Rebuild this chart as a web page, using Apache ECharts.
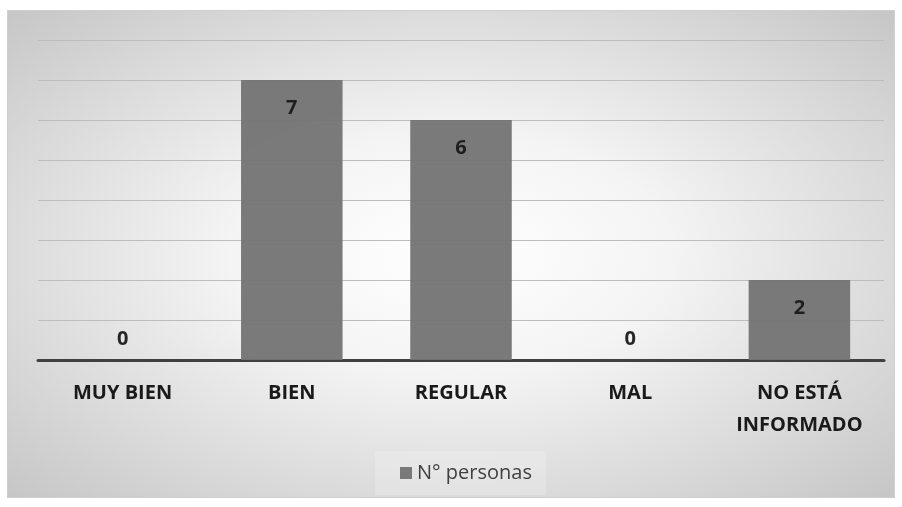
<!DOCTYPE html>
<html>
<head>
<meta charset="utf-8">
<script src="https://cdn.jsdelivr.net/npm/echarts@6/dist/echarts.min.js"></script>
<style>
  html, body { margin: 0; padding: 0; background: #fff; }
  #frame {
    position: absolute; left: 7px; top: 10px; width: 886px; height: 486px;
    border: 1px solid #cfcfcf;
    background: radial-gradient(ellipse at center, #ffffff 0%, #f4f4f4 35%, #c6c6c6 100%);
  }
  #chart { position: absolute; left: 0; top: 0; width: 902px; height: 507px; }
</style>
</head>
<body>
<div id="frame"></div>
<div id="chart"></div>
<script>
// datos del gráfico
var categorias = ['MUY BIEN', 'BIEN', 'REGULAR', 'MAL', 'NO ESTÁ\nINFORMADO']
var personas = [0, 7, 6, 0, 2]
var serieNombre = 'N° personas'

var myChart = echarts.init(document.getElementById('chart'))

var labelFont = {
  fontFamily: '"Open Sans", sans-serif',
  fontWeight: 'bold',
  fontSize: 20,
  color: '#1a1a1a'
}

// etiquetas dentro de la barra; si vale 0 va encima del eje
var datos = personas.map(function (v) {
  return {
    value: v,
    label: v === 0
      ? { position: 'top', distance: 11 }
      : { position: 'insideTop', distance: 18 }
  }
})

var option = {
  animation: false,
  grid: { left: 38, right: 18, top: 40, bottom: 147 },
  legend: {
    data: [serieNombre],
    bottom: 12,
    left: 375,
    icon: 'rect',
    itemWidth: 12,
    itemHeight: 12,
    itemGap: 6,
    padding: [12, 14, 12, 25],
    backgroundColor: 'rgba(255,255,255,0.2)',
    textStyle: {
      fontFamily: '"Open Sans", sans-serif',
      fontSize: 20,
      color: '#404040'
    }
  },
  xAxis: {
    type: 'category',
    data: categorias,
    axisTick: { show: false },
    axisLine: { lineStyle: { color: '#404040', width: 3 } },
    axisLabel: Object.assign({ margin: 17, lineHeight: 32, interval: 0 }, labelFont)
  },
  yAxis: {
    type: 'value',
    min: 0,
    max: 8,
    interval: 1,
    axisLabel: { show: false },
    axisLine: { show: false },
    axisTick: { show: false },
    splitLine: { lineStyle: { color: '#bdbdbd', width: 1 } }
  },
  series: [{
    name: serieNombre,
    type: 'bar',
    barWidth: '60%',
    data: datos,
    itemStyle: { color: '#737373', opacity: 0.95 },
    label: Object.assign({ show: true }, labelFont)
  }]
}

myChart.setOption(option, true)
</script>
</body>
</html>
